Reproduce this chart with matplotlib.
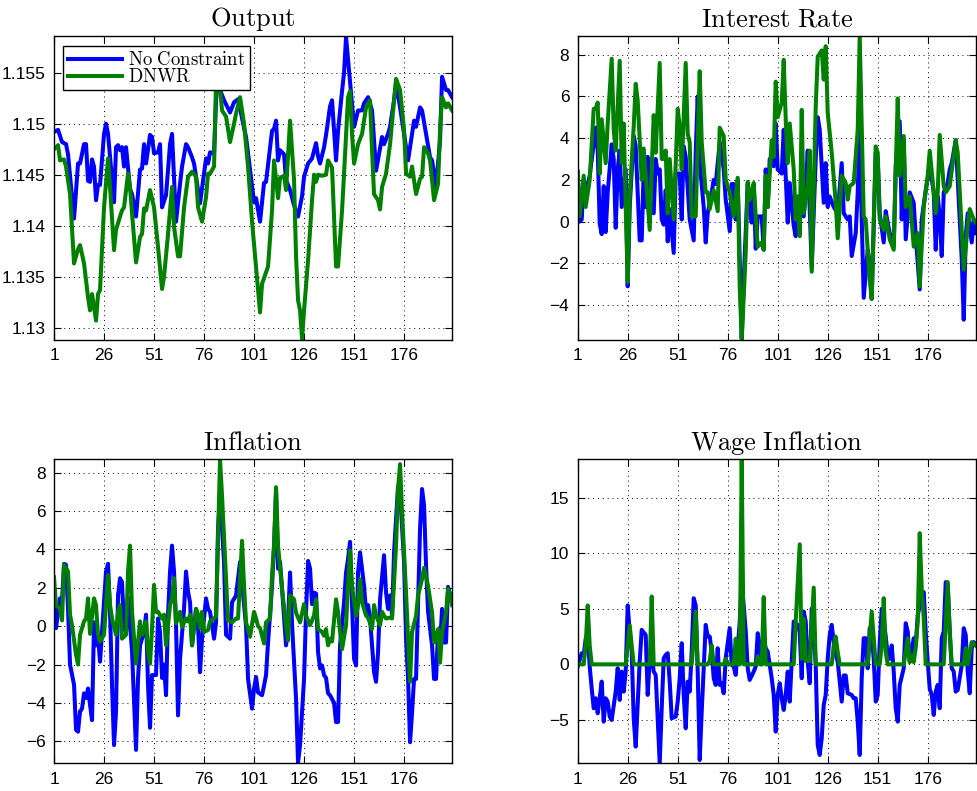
import matplotlib
matplotlib.use('Agg')
import matplotlib.pyplot as plt

plt.rcParams['font.family'] = ['Liberation Sans', 'DejaVu Sans']
plt.rcParams['mathtext.fontset'] = 'cm'

# ---- Output ----
out_nc_t = [1, 3, 5, 7, 8, 11, 13, 14, 16, 17, 18, 19, 20, 21, 22, 23, 24, 26, 27, 28, 31, 32, 33, 34, 35, 36, 37,
            39, 40, 42, 44, 45, 46, 47, 49, 50, 51, 53, 54, 55, 57, 59, 60, 62, 64, 65, 67, 68, 70, 71, 74, 77, 78,
            79, 81, 82, 83, 84, 86, 89, 91, 93, 96, 97, 99, 101, 102, 104, 106, 107, 110, 111, 112, 113, 114, 116,
            117, 119, 121, 123, 125, 126, 128, 130, 132, 133, 134, 136, 137, 139, 140, 142, 143, 145, 146,
            147, 148, 151, 153, 155, 156, 158, 160, 162, 165, 166, 168, 169, 171, 172, 174, 178, 179, 181, 182, 184,
            185, 187, 189, 190, 192, 194, 195, 197, 198, 200]
out_nc = [1.1492, 1.1494, 1.1482, 1.148, 1.147, 1.1407, 1.1461, 1.1461, 1.148, 1.148, 1.1444, 1.1443, 1.1465,
          1.1458, 1.1425, 1.144, 1.144, 1.149, 1.150, 1.149, 1.1423, 1.1477, 1.1479, 1.1474, 1.1477, 1.1458, 1.1477,
          1.1436, 1.1431, 1.1409, 1.1455, 1.1456, 1.148, 1.1461, 1.1489, 1.1487, 1.1471, 1.1472, 1.148, 1.1418,
          1.143, 1.148, 1.149, 1.1404, 1.1441, 1.1458, 1.148, 1.1477, 1.1467, 1.1461, 1.1422, 1.1466, 1.1461,
          1.1472, 1.1471, 1.1523, 1.1546, 1.1533, 1.1523, 1.1511, 1.1521, 1.1524, 1.1496, 1.1487, 1.1455, 1.1423,
          1.1427, 1.1404, 1.1442, 1.1443, 1.1493, 1.1495, 1.1503, 1.1464, 1.1474, 1.147, 1.1445, 1.1435, 1.142,
          1.1409, 1.1429, 1.1448, 1.1461, 1.1466, 1.1481, 1.1468, 1.1461, 1.1477, 1.1489, 1.1517, 1.1523, 1.1464,
          1.1493, 1.1532, 1.155, 1.1585, 1.1563, 1.1497, 1.1513, 1.1513, 1.152, 1.1526, 1.1513,
          1.1454, 1.1487, 1.148, 1.149, 1.1497, 1.1523, 1.154, 1.1516, 1.1464, 1.1477, 1.1503, 1.1497, 1.1516,
          1.1513, 1.149, 1.1467, 1.1464, 1.1438, 1.1484, 1.1546, 1.1533, 1.1533, 1.1526]
out_dn_t = [1, 3, 4, 6, 7, 9, 11, 13, 14, 15, 16, 18, 19, 20, 22, 23, 24, 26, 28, 29, 31, 32, 34, 35, 36, 38, 39,
            40, 42, 44, 45, 46, 47, 49, 51, 53, 55, 56, 58, 60, 61, 63, 64, 66, 68, 70, 72, 73, 75, 77, 78, 79, 81,
            82, 83, 85, 87, 89, 91, 92, 94, 96, 98, 100, 102, 104, 105, 108, 110, 111, 113, 114, 116, 117, 119, 121,
            122, 123, 124, 125, 126, 128, 130, 131, 132, 133, 135, 137, 138, 140, 142, 143, 145, 146, 148, 149, 150,
            151, 153, 155, 157, 159, 160, 161, 163, 164, 165, 167, 169, 171, 172, 174, 176, 177, 179, 180, 182, 184,
            185, 186, 188, 189, 191, 193, 194, 195, 197, 198, 200]
out_dn = [1.1475, 1.1479, 1.1464, 1.1465, 1.1458, 1.1431, 1.1363, 1.1377, 1.1381, 1.1372, 1.1363, 1.133, 1.1317,
          1.1333, 1.1307, 1.1333, 1.1337, 1.1418, 1.1466, 1.1438, 1.1376, 1.1396, 1.1409, 1.1415, 1.1418, 1.1451,
          1.1438, 1.1412, 1.1364, 1.1389, 1.1392, 1.1417, 1.1415, 1.1435, 1.1418, 1.1379, 1.1338, 1.135, 1.1392,
          1.1438, 1.1399, 1.137, 1.137, 1.1418, 1.1448, 1.1453, 1.1448, 1.1418, 1.1404, 1.1428, 1.1451, 1.1451,
          1.1458, 1.1542, 1.1556, 1.1513, 1.1507, 1.1482, 1.150, 1.151, 1.1526, 1.150, 1.1458, 1.1404, 1.136,
          1.1315, 1.1343, 1.136, 1.1415, 1.1464, 1.1427, 1.1447, 1.1449, 1.1435, 1.1503, 1.1445,
          1.137, 1.1327, 1.1317, 1.1289, 1.1317, 1.1366, 1.1425, 1.145, 1.1443, 1.145, 1.1449, 1.145, 1.1464,
          1.1457, 1.136, 1.136, 1.1415, 1.1451, 1.1526, 1.1532, 1.149,
          1.1461, 1.148, 1.149, 1.1516, 1.1523, 1.1474, 1.1431, 1.1425, 1.1416, 1.1438, 1.1451, 1.148, 1.1523,
          1.1544, 1.1533, 1.1494, 1.1451, 1.1448, 1.1458, 1.1431, 1.1446, 1.1448, 1.1477, 1.1471, 1.1464, 1.1425,
          1.1441, 1.1494, 1.1526, 1.1516, 1.152, 1.1513]

# ---- Interest Rate ----
ir_nc_t = [1, 2, 3, 4, 5, 7, 10, 11, 12, 13, 14, 15, 16, 18, 19, 20, 21, 22, 23, 25, 26, 27, 29, 30, 32, 33, 34,
           35, 36, 37, 39, 40, 41, 42, 43, 44, 45, 46, 47, 49, 50, 52, 53, 54, 55, 57, 59, 60, 61, 62, 64, 65, 66,
           68, 69, 70, 72, 74, 75, 77, 78, 79, 80, 81, 83, 84, 86, 87, 88, 89, 90, 91, 93, 94, 95, 96, 97, 99, 100,
           101, 103, 104, 105, 106, 107, 109, 110, 111, 112, 114, 115, 116, 118, 120, 121, 122, 124, 125, 126, 127,
           129, 131, 133, 134, 136, 137, 138, 140, 141, 142, 143, 144, 146, 147, 148, 150, 151, 152, 154, 155, 156,
           157, 159, 160, 162, 163, 164, 165, 167, 169, 170, 172, 173, 175, 177, 179, 180, 181, 182, 183, 184, 186,
           187, 188, 190, 191, 193, 194, 195, 196, 198, 199, 200]
ir_nc = [2.4, 0.0, 0.1, 2.0, 1.4, 2.2, 4.5, 3.4, -0.1, -0.6, 1.7, -0.5, 1.4, 3.7, 3.0, -0.3, 2.5, 3.4, 0.7, 2.5,
         -3.1, 0.7, 4.1, 3.6, -0.9, -0.9, 2.5, 0.7, 3.1, 1.05, 0.4, 3.0, 2.3, 2.5, 0.1, -0.15, 1.5, -0.95, 0.6, -1.5,
         2.3, 2.3, 0.1, 3.6, 3.1, 0.1, -0.9, 3.3, 6.0, 2.8, 0.7, -1.0, 0.4, 1.4, 2.0, 1.8, 3.8, 2.5, 1.05, -0.45,
         1.8, 1.8, 0.1, 2.0, -5.6, -2.8, 1.8, 0.7, -0.05, 1.8, -1.3, 0.25, 0.25, -1.35, 2.5, 0.7, 3.0, 2.65, 4.7,
         2.5, 2.3, 4.4, 2.2, -0.05, 1.85, -0.2, -0.7, 1.2, 0.4, 0.25, 1.5, 3.4, -2.2, 3.0, 5.0, 4.4, 0.9, 2.8, 0.7,
         1.2, 0.7, 0.4, 2.8, 0.4, 0.1, 0.25, -1.65, -0.55, 1.4, 4.4, 0.1, -3.65, -1.35, -2.0, -3.7, 3.3, 3.0, 0.4,
         -1.0, 0.5, -0.05, -0.55, -1.2, 2.65, 4.8, 0.1, 3.9, -0.85, 1.4, 0.9, -0.7, -3.25, 0.1, 1.5, 2.65, 1.4,
         -1.35, 1.2, 0.25, -1.65, 1.4, 1.85, 2.5, 2.8, 3.9, 2.0, -1.8, -4.7, -0.7, 0.4, -1.0, 0.1, -0.55]
ir_dn_t = [1, 2, 4, 5, 7, 9, 10, 11, 12, 13, 15, 16, 18, 19, 20, 22, 23, 24, 25, 26, 27, 29, 30, 31, 33, 34, 35,
           37, 38, 39, 40, 42, 43, 44, 45, 46, 47, 49, 51, 52, 53, 55, 56, 57, 58, 60, 62, 63, 65, 66, 67, 69, 71,
           72, 74, 75, 77, 79, 81, 82, 83, 85, 86, 87, 89, 90, 91, 93, 94, 95, 96, 98, 99, 100, 101, 103, 104, 105,
           106, 107, 109, 110, 111, 112, 113, 114, 116, 117, 118, 120, 121, 123, 124, 125, 126, 128, 130, 131, 133,
           135, 136, 137, 139, 141, 142, 144, 145, 147, 148, 150, 151, 152, 154, 155, 157, 159, 160, 161, 162, 164,
           165, 167, 169, 171, 172, 174, 176, 177, 179, 180, 181, 182, 184, 185, 187, 190, 191, 194, 196, 197, 199,
           200]
ir_dn = [2.3, 0.25, 2.2, 0.7, 2.0, 5.4, 5.4, 5.7, 2.3, 4.9, 2.8, 4.7, 7.8, 4.4, 3.4, 7.7, 2.8, 4.7, 0.7, -2.9,
         1.2, 4.55, 6.6, 5.8, 2.0, 3.5, 2.2, -0.4, 2.5, 5.1, 3.3, 7.6, 3.0, 3.0, 3.4, 0.4, 3.0, 0.1, 5.4, 4.55, 2.5,
         7.6, 4.2, 3.8, 0.25, 0.25, 7.2, 3.8, 1.4, 1.4, 0.6, 1.5, 0.5, 4.5, 4.1, 2.0, 1.4, 0.25, 2.1, -3.1, -5.67,
         -1.5, 1.9, 1.05, 1.85, 0.25, -1.2, -1.0, -1.35, 2.2, 0.7, 3.9, 3.1, 6.7, 5.0, 5.7, 7.75, 4.9, 2.8, 4.7,
         2.5, 0.1, 1.2, -0.7, 5.35, 0.4, 1.7, 3.4, -2.4, 5.5, 7.9, 8.2, 6.8, 8.4, 5.2, 3.3, 0.9, -0.8, 2.2, 1.85,
         1.05, 1.7, 1.85, 4.4, 8.89, 0.25, 0.1, -2.8, -3.7, 3.6, 3.3, 0.1, -0.4, 0.25, -0.85, -1.35, 2.5, 5.9, 2.2,
         4.1, 0.7, 1.2, -1.2, -0.55, -3.1, 0.7, 2.2, 3.4, 1.4, 0.4, 1.4, 4.15, 1.7, 1.4, 1.7, 3.9, 3.3, -2.3, -0.2,
         0.6, 0.1, -0.05]

# ---- Inflation ----
inf_nc_t = [1, 2, 3, 4, 5, 6, 7, 8, 9, 11, 12, 13, 14, 15, 16, 17, 18, 19, 20, 21, 22, 23, 24, 25, 27, 28, 29,
            30, 31, 32, 33, 34, 35, 36, 37, 38, 40, 42, 43, 44, 46, 47, 48, 49, 50, 52, 53, 54, 55, 56, 57, 58, 59,
            60, 61, 62, 63, 64, 66, 67, 68, 69, 70, 72, 73, 74, 75, 77, 78, 79, 81, 82, 83, 84, 86, 87, 89, 90, 92,
            94, 96, 97, 98, 100, 101, 102, 103, 105, 106, 107, 108, 110, 111, 112, 113, 114, 115, 117, 118, 119,
            120, 122, 123, 124, 126, 127, 128, 129, 130, 131, 132, 133, 134, 135, 136, 137, 138, 139, 141, 142, 143,
            144, 146, 147, 148, 149, 150, 151, 152, 153, 154, 156, 157, 158, 159, 161, 162, 163, 164, 166, 167, 168,
            169, 170, 171, 173, 174, 176, 177, 178, 179, 180, 181, 182, 183, 184, 185, 186, 187, 188, 190, 191, 192,
            193, 194, 195, 196, 197, 198, 200]
inf_nc = [1.25, -0.1, 0.75, 1.45, 1.3, 3.25, 3.2, 0.9, -2.0, -3.05, -5.4, -5.5, -4.45, -4.3, -3.5, -3.75, -3.25,
          -4.1, -4.9, 0.2, -1.0, -0.5, -1.85, -0.3, 2.85, 3.25, 0.75, -3.1, -6.2, -4.45, 1.6, 2.5, 2.3, -0.1, -0.3,
          1.5, -1.3, -6.45, -2.7, -1.0, -0.3, 0.6, -3.1, -5.3, -2.55, -2.55, 0.4, -0.3, -2.7, -2.0, -3.6, 0.6, 2.85,
          4.2, 2.85, 0.05, -4.65, -1.7, 0.9, 2.85, 1.8, 1.25, -1.0, 0.9, 0.05, -2.4, -0.65, 1.45, 0.9, 0.75, -0.65,
          0.2, 5.1, 6.8, 3.35, -0.45, -0.65, 1.25, 1.6, 3.35, 1.1, 0.0, -2.75, -4.3, -3.25, -2.65, -3.45, -3.6,
          -3.1, -2.55, -0.85, 2.1, 4.2, 7.0, 3.0, 3.35, 1.95, -1.0, 0.2, 2.8, 0.1, -3.8, -7.1, -6.2, -2.75, 0.75,
          3.4, 3.0, 1.15, 1.75, 1.7, -1.35, -2.2, -2.05, -2.55, -2.7, -3.5, -3.6, -4.0, -5.0, -5.0, -1.0, 1.25, 2.8,
          3.5, 4.4, 1.1, -1.7, -2.05, 2.8, 3.85, 2.1, 0.75, 1.1, 0.4, -2.4, -2.9, -1.35, 1.4, 3.7, 1.75, 0.9, 1.6,
          0.55, 3.85, 7.3, 7.0, 3.35, -0.65, -2.75, -6.05, -4.5, -2.75, -2.75, 1.25, 5.1, 7.15, 6.3, 3.15, 0.75,
          -1.0, -2.75, -2.75, -0.3, -1.0, 0.9, -0.85, -0.85, 2.05, 1.25]
inf_dn_t = [1, 2, 4, 5, 6, 8, 9, 10, 12, 13, 14, 16, 17, 18, 19, 21, 22, 23, 24, 26, 28, 29, 30, 32, 33, 34, 35,
            37, 38, 39, 40, 42, 44, 45, 47, 48, 49, 50, 51, 52, 53, 55, 56, 57, 59, 60, 61, 62, 63, 64, 65, 67, 68,
            69, 70, 72, 73, 74, 75, 76, 78, 79, 81, 82, 84, 85, 87, 88, 90, 92, 93, 95, 96, 97, 99, 101, 102, 103,
            104, 105, 106, 107, 109, 110, 111, 112, 113, 115, 117, 118, 119, 121, 122, 124, 126, 127, 129, 131, 132,
            133, 135, 136, 137, 138, 139, 140, 142, 143, 144, 145, 147, 148, 149, 150, 152, 153, 154, 155, 157, 158,
            160, 161, 162, 164, 165, 166, 167, 169, 170, 172, 173, 174, 175, 177, 178, 179, 180, 182, 183, 185, 186,
            188, 190, 191, 193, 194, 195, 197, 198, 200]
inf_dn = [2.55, 1.1, 0.9, 0.3, 3.2, 2.85, 0.6, 0.05, -1.5, -2.0, -0.45, 0.25, 0.4, 1.45, -0.4, 1.45, 1.1, -0.45,
          -0.8, -0.45, 2.65, 1.1, 0.4, -0.45, 0.75, 1.1, -0.65, -0.45, 2.85, 4.2, 0.75, -1.95, 0.25, -0.45, 0.25,
          -1.35, -1.95, -0.1, 2.15, 0.75, 0.75, 0.4, 0.6, -1.0, 1.1, 1.45, 2.5, 0.15, 0.4, 0.75, -0.05, 0.4, 0.25,
          0.6, -1.0, 0.9, 0.6, -0.1, 0.75, -0.3, -0.2, 0.25, 0.4, 0.5, 8.7, 6.8, 2.5, 0.3, 0.2, 0.4, 0.4, 4.45, 2.1,
          0.2, -0.55, 0.75, 0.4, 0.0, -0.1, -0.5, -0.9, 0.2, 0.4, 2.65, 4.2, 7.25, 4.2, 1.95, 0.05, -0.75, 1.6, 1.4,
          0.7, 0.2, 1.15, 0.55, 0.05, 0.55, 1.4, -0.15, -0.3, -0.5, -0.15, -1.0, -0.65, -0.8, 1.4, 0.75, -0.3, -1.2,
          0.05, 2.1, 3.95, 2.1, 0.55, 1.1, 2.45, 1.25, 0.55, 0.45, -0.15, 1.1, 0.55, 0.05, 0.75, 0.55, 0.4, 0.45,
          0.4, 4.2, 7.15, 8.45, 5.95, 1.75, -0.65, -2.9, -0.3, 0.55, 1.6, 2.45, 3.05, 2.1, 0.7, -0.85, -0.15, -1.9,
          -0.3, 0.75, 1.95, 1.1]

# ---- Wage Inflation ----
wg_nc_t = [1, 2, 3, 4, 5, 6, 7, 8, 9, 10, 11, 12, 13, 14, 15, 16, 17, 18, 20, 21, 22, 23, 24, 25, 26, 27, 28, 29,
           30, 31, 32, 33, 35, 36, 37, 38, 39, 40, 42, 43, 44, 45, 46, 47, 48, 50, 51, 52, 53, 54, 55, 56, 57, 58,
           59, 60, 61, 62, 63, 65, 66, 67, 68, 69, 70, 71, 72, 73, 74, 75, 77, 78, 79, 80, 82, 83, 85, 86, 87, 89,
           90, 91, 92, 93, 94, 95, 96, 98, 99, 100, 101, 102, 103, 104, 105, 106, 107, 108, 109, 111, 112, 113, 114,
           115, 116, 117, 118, 119, 120, 121, 122, 123, 124, 125, 126, 127, 128, 129, 130, 131, 133, 134, 135, 136,
           138, 139, 140, 141, 142, 143, 144, 145, 146, 147, 148, 149, 150, 151, 152, 153, 154, 156, 157, 158, 159,
           160, 161, 162, 164, 165, 166, 167, 168, 169, 170, 171, 173, 174, 175, 176, 177, 178, 179, 180, 181, 182,
           183, 184, 185, 186, 187, 188, 189, 190, 191, 193, 194, 195, 196, 197, 198, 199, 200]
wg_nc = [-0.2, 0.4, 1.0, 0.85, 2.3, 2.9, -0.2, -2.15, -3.95, -3.05, -4.4, -3.05, -1.55, -5.15, -3.05, -3.35, -4.7,
         -5.0, -2.45, -0.35, -3.2, -0.65, -2.45, -0.65, 5.3, 2.9, 1.15, -4.85, -7.4, -3.65, 0.25, 3.1, 2.65, -2.75,
         0.5, 0.85, -0.65, -0.95, -8.9, -3.95, 0.55, 0.85, 1.0, -1.55, -4.85, -4.7, -3.35, -1.25, 1.9, -2.75, -5.75,
         -1.55, -2.45, 1.15, 5.95, 5.3, -0.65, -8.6, -4.25, 3.55, 2.5, 2.5, 1.15, -1.25, -1.85, 1.45, -1.85, -1.7,
         -2.6, 0.55, 3.25, -0.05, -0.2, -0.95, 3.8, 7.5, 3.0, -0.35, -1.4, -0.65, -0.2, 2.8, 1.75, 0.0, 2.3, 1.45,
         1.15, -1.25, -2.75, -6.05, -2.75, -1.7, -3.05, -4.1, -2.75, -0.65, -3.35, 0.25, 3.85, 3.55, 2.9, -1.25,
         4.75, 3.85, 0.25, -1.7, 5.0, 3.55, -0.1, -7.25, -8.15, -6.65, -3.65, -2.75, 0.5, 2.65, 3.55, 2.0, 0.85,
         0.25, -3.35, -1.0, -1.0, -2.6, -2.75, -3.05, -3.05, -5.15, -8.15, -1.25, 2.35, 2.35, -0.35, 3.25, 2.65,
         0.5, -3.35, -2.75, 2.0, 5.0, 4.1, 0.85, 0.5, 1.7, -0.65, -3.95, -5.15, -1.85, -0.35, 3.7, 2.95, 0.25,
         1.15, 2.35, 1.7, 4.4, 6.2, 6.5, 2.9, 0.25, -2.2, -2.75, -4.55, -2.45, -1.85, -3.95, 2.35, 2.95, 7.4, 7.1,
         2.95, -0.35, -0.65, -2.45, -2.3, -0.1, 3.25, 2.65, -0.65, -2.6, 1.45, 2.0, 1.75]
wg_dn_t = [1, 4, 5, 6, 7, 8, 25, 27, 28, 29, 37, 38, 39, 58, 60, 61, 66, 67, 68, 69, 74, 75, 76, 79, 80, 81, 82,
           83, 84, 90, 91, 92, 93, 94, 95, 109, 110, 112, 113, 114, 115, 117, 119, 120, 128, 129, 130, 131, 132,
           146, 148, 150, 152, 153, 154, 155, 156, 164, 166, 167, 168, 169, 170, 171, 172, 173, 174, 175, 184, 186,
           187, 188, 194, 195, 196, 198, 200]
wg_dn = [0, 0, 1.7, 5.3, 1.7, 0, 0, 3.5, 1.7, 0, 0, 6.1, 0, 0, 4.75, 0, 0, 0.3, 1.7, 0, 0, 0.5, 0, 0, 2.3, 0, 0,
         18.44, 0, 0, 0.7, 0, 0, 6.05, 0, 0, 3.85, 10.8, 0.5, 4.1, 0.3, 0.3, 6.9, 0, 0, 1.7, 2.5, 1.1, 0, 0, 4.75,
         0, 0, 1.7, 5.95, 1.1, 0, 0, 2.35, 0.2, 0.8, 0.2, 1.5, 3.85, 11.8, 6.8, 4.15, 0, 0, 7.4, 2.95, 0, 0, 1.45,
         0, 2.0, 1.7]

titles = ['Output', 'Interest Rate', 'Inflation', 'Wage Inflation']
xticks = [1, 26, 51, 76, 101, 126, 151, 176]
out_yticks = [1.13, 1.135, 1.14, 1.145, 1.15, 1.155]
out_yticklabels = ['1.13', '1.135', '1.14', '1.145', '1.15', '1.155']
ir_yticks = [-4, -2, 0, 2, 4, 6, 8]
inf_yticks = [-6, -4, -2, 0, 2, 4, 6, 8]
wg_yticks = [-5, 0, 5, 10, 15]
legend_labels = ['No Constraint', 'DNWR']

panels = [
    (out_nc_t, out_nc, out_dn_t, out_dn, out_yticks, out_yticklabels, (1.1288, 1.1586)),
    (ir_nc_t, ir_nc, ir_dn_t, ir_dn, ir_yticks, None, (-5.67, 8.89)),
    (inf_nc_t, inf_nc, inf_dn_t, inf_dn, inf_yticks, None, (-7.15, 8.7)),
    (wg_nc_t, wg_nc, wg_dn_t, wg_dn, wg_yticks, None, (-8.9, 18.44)),
]
positions = [[0.0553, 0.5702, 0.4074, 0.3843], [0.5913, 0.5702, 0.4074, 0.3843],
             [0.0553, 0.0350, 0.4074, 0.3843], [0.5913, 0.0350, 0.4074, 0.3843]]

fig = plt.figure(figsize=(9.77, 7.91), dpi=100)

for i, (t1, y1, t2, y2, yt, ytl, ylim) in enumerate(panels):
    ax = fig.add_axes(positions[i])
    l1, = ax.plot(t1, y1, color='#0000ff', lw=2.9, solid_joinstyle='round')
    l2, = ax.plot(t2, y2, color='#008000', lw=2.9, solid_joinstyle='round')
    ax.set_xlim(1, 200)
    ax.set_ylim(*ylim)
    ax.set_xticks(xticks)
    ax.set_yticks(yt)
    if ytl is not None:
        ax.set_yticklabels(ytl)
    ax.grid(True, color='k', linestyle=(0, (1, 4)), linewidth=0.7)
    ax.tick_params(direction='in', top=True, right=True, length=5, width=0.8, labelsize=12.5, pad=6)
    for s in ax.spines.values():
        s.set_linewidth(1.0)
    ax.set_title(r'$\mathrm{%s}$' % titles[i].replace(' ', r'\ '), fontsize=19, pad=7)
    if i == 0:
        ax.legend([l1, l2], [r'$\mathrm{%s}$' % s.replace(' ', r'\ ') for s in legend_labels],
                  loc='upper left', bbox_to_anchor=(0.0226, 0.967), borderaxespad=0,
                  fancybox=False, edgecolor='k', framealpha=1, fontsize=13.5,
                  handlelength=2.9, handletextpad=0.3, labelspacing=-0.05, borderpad=0.25,
                  handleheight=0.5)

fig.savefig('out.png', dpi=100)
